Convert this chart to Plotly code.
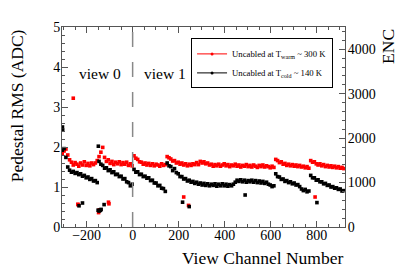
import plotly.graph_objects as go

# channel numbers (sampled every 8 channels)
channels_v0 = list(range(-306, -1, 8))   # view 0 : -306 .. -2  (39)
channels_v1 = list(range(6, 919, 8))     # view 1 : 6 .. 918    (115)

red_v0 = [
    1.84, 1.90, 1.95, 1.80, 1.68, 1.62, 1.55, 1.61, 1.57, 1.52,
    1.60, 1.55, 1.63, 1.54, 1.59, 1.53, 1.60, 1.56, 1.60, 1.66,
    1.76, 1.87, 1.99, 1.74, 1.64, 1.68, 1.59, 1.64, 1.56, 1.62,
    1.58, 1.63, 1.56, 1.61, 1.57, 1.62, 1.54, 1.58, 1.53,
]
red_v1 = [
    1.78, 1.72, 1.69, 1.63, 1.62, 1.57, 1.60, 1.55, 1.59, 1.54,
    1.58, 1.53, 1.57, 1.55, 1.52, 1.58, 1.54, 1.56, 1.76, 1.73,
    1.70, 1.65, 1.66, 1.60, 1.62, 1.57, 1.60, 1.55, 1.58, 1.53,
    1.57, 1.54, 1.58, 1.56, 1.61, 1.56, 1.64, 1.60, 1.63, 1.58,
    1.60, 1.55, 1.57, 1.52, 1.56, 1.53, 1.57, 1.52, 1.55, 1.58,
    1.53, 1.56, 1.51, 1.55, 1.53, 1.57, 1.52, 1.55, 1.50, 1.54,
    1.52, 1.56, 1.51, 1.54, 1.50, 1.55, 1.52, 1.49, 1.54, 1.51,
    1.55, 1.50, 1.53, 1.51, 1.48, 1.52, 1.49, 1.69, 1.66, 1.61,
    1.63, 1.57, 1.59, 1.54, 1.57, 1.53, 1.56, 1.52, 1.55, 1.51,
    1.54, 1.50, 1.52, 1.48, 1.51, 1.47, 1.66, 1.62, 1.63, 1.58,
    1.55, 1.58, 1.53, 1.56, 1.51, 1.54, 1.50, 1.53, 1.49, 1.52,
    1.48, 1.51, 1.47, 1.49, 1.46,
]

black_v0 = [
    1.92, 1.96, 1.74, 1.50, 1.42, 1.37, 1.39, 1.34, 1.36, 1.31,
    1.33, 1.27, 1.29, 1.23, 1.25, 1.19, 1.21, 1.15, 1.16, 1.11,
    1.64, 1.57, 1.54, 1.47, 1.48, 1.41, 1.43, 1.36, 1.38, 1.31,
    1.32, 1.26, 1.27, 1.20, 1.21, 1.13, 1.11, 1.03, 1.07,
]
black_v1 = [
    1.44, 1.37, 1.38, 1.31, 1.32, 1.26, 1.27, 1.22, 1.23, 1.16,
    1.17, 1.10, 1.10, 1.03, 1.04, 0.97, 0.96, 0.89, 1.60, 1.53,
    1.51, 1.41, 1.46, 1.36, 1.33, 1.26, 1.26, 1.20, 1.21, 1.15,
    1.17, 1.12, 1.14, 1.09, 1.12, 1.07, 1.10, 1.05, 1.09, 1.04,
    1.08, 1.03, 1.07, 1.04, 1.08, 1.02, 1.07, 1.03, 1.08, 1.03,
    1.07, 1.02, 1.06, 1.03, 1.07, 1.12, 1.17, 1.14, 1.18, 1.13,
    1.17, 1.12, 1.16, 1.13, 1.17, 1.12, 1.16, 1.11, 1.15, 1.10,
    1.14, 1.09, 1.12, 1.07, 1.05, 1.01, 1.03, 1.33, 1.26, 1.25,
    1.19, 1.20, 1.14, 1.16, 1.11, 1.13, 1.08, 1.10, 1.05, 1.06,
    1.01, 0.95, 0.91, 0.94, 0.88, 0.90, 1.29, 1.23, 1.23, 1.17,
    1.18, 1.13, 1.13, 1.08, 1.09, 1.04, 1.05, 1.00, 1.01, 0.97,
    0.98, 0.94, 0.95, 0.90, 0.91,
]

# isolated channels
red_out_ch = [-258, -238, -236, -148, -145, -105, -103, 222, 243, 793]
red_out_val = [3.22, 0.57, 0.55, 0.36, 0.43, 0.62, 0.58, 0.75, 0.54, 0.75]
black_out_ch = [-305, -304, -233, -218, -150, -146, -143, -140, -137, -124, -149, 217, 246, 489, 801]
black_out_val = [2.50, 2.42, 0.53, 0.60, 0.42, 0.40, 0.41, 0.42, 0.44, 0.56, 2.02, 0.62, 0.51, 0.80, 0.61]

x_range = [-307, 923]
y_range = [0, 5]
enc_range = [0, 4500]

RED = "#ff0000"
BLACK = "#000000"
FONT = "Liberation Serif"
AX = "#555555"

red_x = channels_v0 + channels_v1 + red_out_ch
red_y = red_v0 + red_v1 + red_out_val
black_x = channels_v0 + channels_v1 + black_out_ch
black_y = black_v0 + black_v1 + black_out_val

fig = go.Figure()
fig.add_trace(go.Scatter(x=red_x, y=red_y, mode="markers",
                         marker=dict(symbol="square", size=3.6, color=RED), showlegend=False))
fig.add_trace(go.Scatter(x=black_x, y=black_y, mode="markers",
                         marker=dict(symbol="square", size=3.6, color=BLACK), showlegend=False))
# legend entries
fig.add_trace(go.Scatter(x=[None], y=[None], mode="lines+markers",
                         name="Uncabled at T<sub>warm</sub> ~ 300 K",
                         line=dict(color=RED, width=1), marker=dict(size=3, color=RED)))
fig.add_trace(go.Scatter(x=[None], y=[None], mode="lines+markers",
                         name="Uncabled at T<sub>cold</sub> ~ 140 K",
                         line=dict(color=BLACK, width=1), marker=dict(size=3, color=BLACK)))
# right axis carrier
fig.add_trace(go.Scatter(x=[None], y=[None], yaxis="y2", showlegend=False))

fig.add_shape(type="line", x0=0, x1=0, y0=0, y1=1, xref="x", yref="paper",
              line=dict(color="#888888", width=1.5, dash="longdash"))

fig.update_layout(
    width=399, height=259,
    margin=dict(l=54, r=62, t=12, b=40),
    paper_bgcolor="white", plot_bgcolor="white",
    font=dict(family=FONT, color="black", size=14),
    xaxis=dict(range=x_range, dtick=200, tick0=0, ticks="inside", ticklen=6, tickcolor=AX,
               showline=True, linecolor=AX, linewidth=1, mirror="ticks", showgrid=False, zeroline=False,
               minor=dict(dtick=50, ticks="inside", ticklen=3, tickcolor=AX),
               tickfont=dict(size=14, family=FONT), ticklabelstandoff=-5),
    yaxis=dict(range=y_range, dtick=1, ticks="inside", ticklen=6, tickcolor=AX,
               showline=True, linecolor=AX, linewidth=1, showgrid=False, zeroline=False,
               minor=dict(dtick=0.2, ticks="inside", ticklen=3, tickcolor=AX),
               tickfont=dict(size=14, family=FONT), ticklabelstandoff=-2),
    yaxis2=dict(range=enc_range, dtick=1000, overlaying="y", side="right", ticks="inside", ticklen=6,
                tickcolor=AX, showline=True, linecolor=AX, linewidth=1, showgrid=False, zeroline=False,
                minor=dict(dtick=200, ticks="inside", ticklen=3, tickcolor=AX),
                tickfont=dict(size=14, family=FONT), ticklabelstandoff=-1),
    legend=dict(x=0.456, y=0.943, xanchor="left", yanchor="top", bgcolor="white",
                bordercolor="black", borderwidth=1, font=dict(size=8.7, family=FONT),
                tracegroupgap=0, itemwidth=30),
    showlegend=True,
    annotations=[
        dict(text="View Channel Number", x=1, y=-0.155, xref="paper", yref="paper",
             xanchor="right", yanchor="middle", showarrow=False, font=dict(size=17.5, family=FONT)),
        dict(text="Pedestal RMS (ADC)", x=-0.16, y=1, xref="paper", yref="paper",
             xanchor="center", yanchor="top", textangle=-90, showarrow=False,
             font=dict(size=17.5, family=FONT)),
        dict(text="ENC", x=1.15, y=1, xref="paper", yref="paper",
             xanchor="center", yanchor="top", textangle=-90, showarrow=False,
             font=dict(size=17.5, family=FONT)),
        dict(text="view 0", x=-144, y=3.84, xref="x", yref="y", xanchor="center", yanchor="middle",
             showarrow=False, font=dict(size=15.5, family=FONT)),
        dict(text="view 1", x=140, y=3.84, xref="x", yref="y", xanchor="center", yanchor="middle",
             showarrow=False, font=dict(size=15.5, family=FONT)),
    ],
)

fig.write_html("out.html")
